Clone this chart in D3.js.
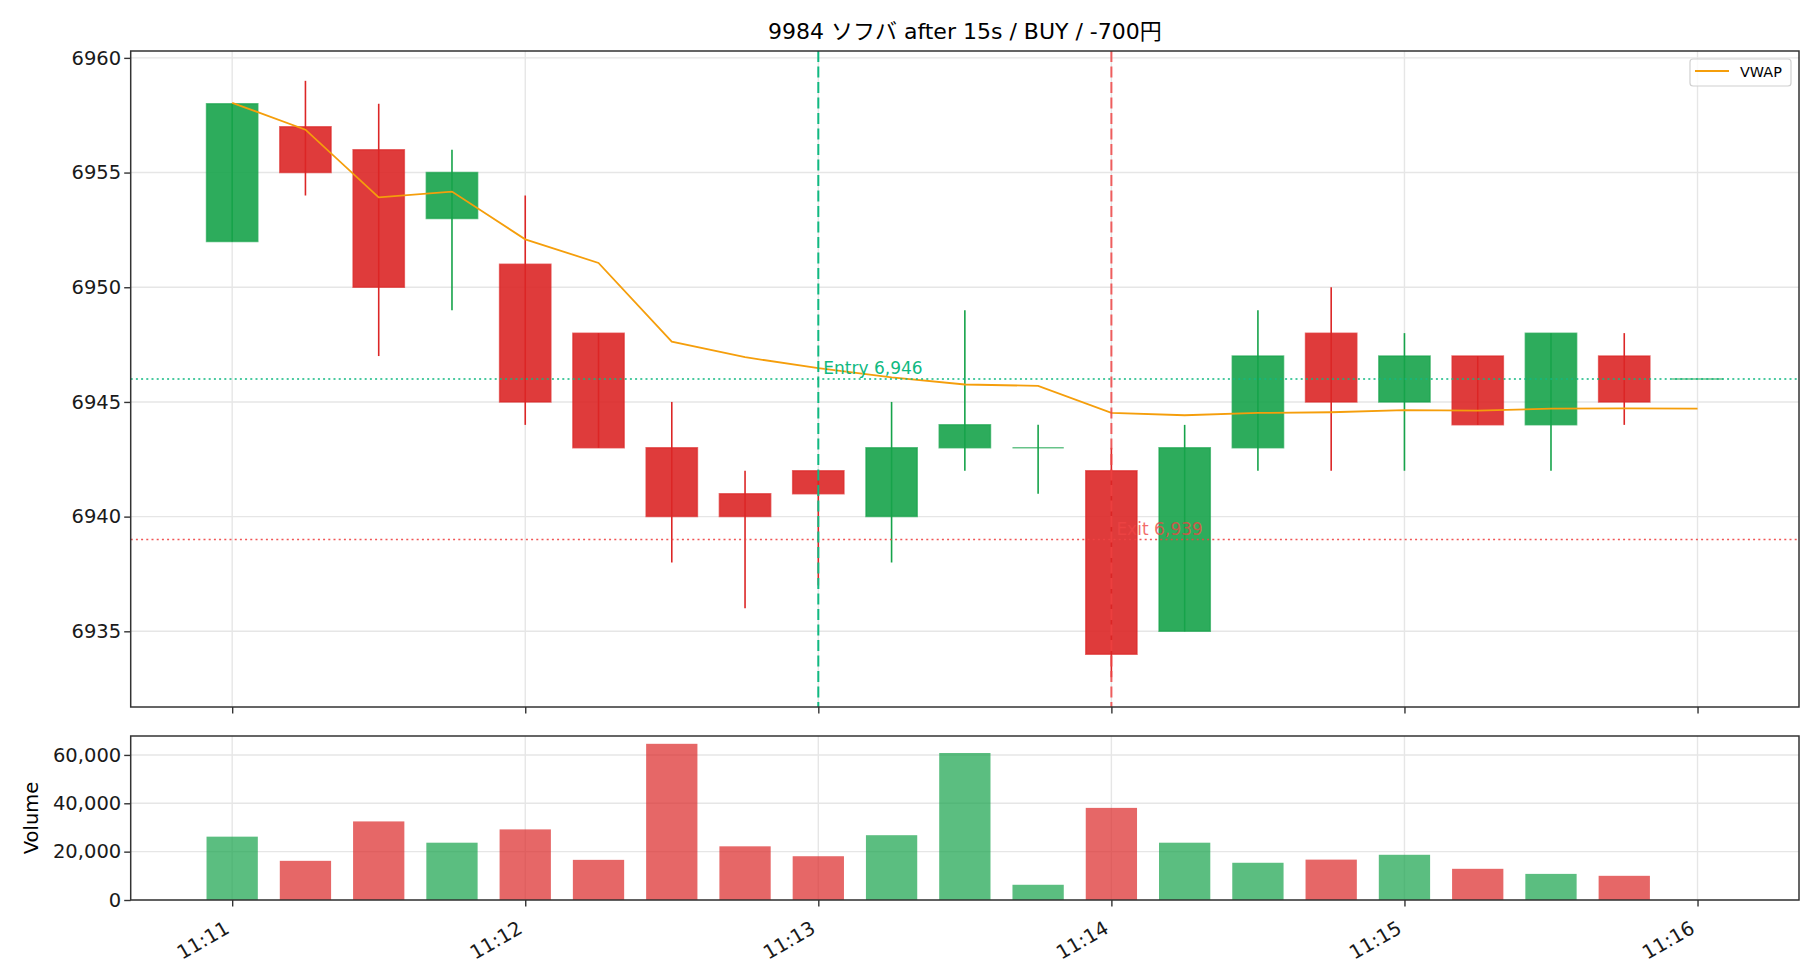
<!DOCTYPE html>
<html>
<head>
<meta charset="utf-8">
<script src="https://d3js.org/d3.v7.min.js"></script>
<style>
  body { margin: 0; background: #ffffff; }
  text { font-family: "DejaVu Sans", "Noto Sans CJK JP", sans-serif; }
</style>
</head>
<body>
<div id="chart"></div>
<script>
var w = 1820
var h = 980

// 15 second candles
var times  = ["11:11:00", "11:11:15", "11:11:30", "11:11:45", "11:12:00", "11:12:15", "11:12:30",
              "11:12:45", "11:13:00", "11:13:15", "11:13:30", "11:13:45", "11:14:00", "11:14:15",
              "11:14:30", "11:14:45", "11:15:00", "11:15:15", "11:15:30", "11:15:45", "11:16:00"];
var open   = [6952, 6957, 6956, 6953, 6951, 6948, 6943, 6941, 6942, 6940, 6943, 6943, 6942, 6935, 6943, 6948, 6945, 6947, 6944, 6947, 6946];
var high   = [6958, 6959, 6958, 6956, 6954, 6948, 6945, 6942, 6942, 6945, 6949, 6944, 6943, 6944, 6949, 6950, 6948, 6947, 6948, 6948, 6946];
var low    = [6952, 6954, 6947, 6949, 6944, 6943, 6938, 6936, 6937, 6938, 6942, 6941, 6933, 6935, 6942, 6942, 6942, 6944, 6942, 6944, 6946];
var close  = [6958, 6955, 6950, 6955, 6945, 6943, 6940, 6940, 6941, 6943, 6944, 6943, 6934, 6943, 6947, 6945, 6947, 6944, 6948, 6945, 6946];
var volume = [26200, 16200, 32500, 23700, 29200, 16600, 64600, 22200, 18100, 26800, 60800, 6300, 38100, 23700, 15400, 16700, 18700, 12900, 10800, 10000, 0];
var vwap   = [6958.04, 6956.87, 6953.92, 6954.17, 6952.09, 6951.06, 6947.63, 6946.95, 6946.47, 6946.07, 6945.76,
              6945.70, 6944.52, 6944.42, 6944.52, 6944.55, 6944.64, 6944.62, 6944.71, 6944.72, 6944.71];

var entryTime = "11:13:00", entryPrice = 6946;
var exitTime  = "11:14:00", exitPrice  = 6939;
var yTicks    = [6935, 6940, 6945, 6950, 6955, 6960];
var volTicks  = [0, 20000, 40000, 60000];
var title     = "9984 ソフバ after 15s / BUY / -700円";

var green = "#16a34a", red = "#dc2626";
var entryColor = "#10b981", exitColor = "#ef4444";
var barSec = 10.5;

var parseT = d3.timeParse("%H:%M:%S");
var data = times.map(function(t, i) {
  return { t: parseT(t), o: open[i], h: high[i], l: low[i], c: close[i], v: volume[i], vw: vwap[i] };
});

var main = { l: 130.7, r: 1799, t: 51, b: 707 };
var vol  = { l: 130.7, r: 1799, t: 736, b: 900 };

// x extent like matplotlib: bar edges plus 5% margin
var t0 = +data[0].t - barSec * 500, t1 = +data[data.length - 1].t + barSec * 500;
var pad = (t1 - t0) * 0.05;
var x = d3.scaleTime().domain([new Date(t0 - pad), new Date(t1 + pad)]).range([main.l, main.r]);
var bw = x(new Date(+data[0].t + barSec * 1000)) - x(data[0].t);

var lo = d3.min(low), hi = d3.max(high), yp = (hi - lo) * 0.05;
var y = d3.scaleLinear().domain([lo - yp, hi + yp]).range([main.b, main.t]);
var yv = d3.scaleLinear().domain([0, d3.max(volume) * 1.05]).range([vol.b, vol.t]);

var svg = d3.select("#chart").append("svg")
    .attr("width", w)
    .attr("height", h);

var xTicks = x.ticks(d3.timeMinute.every(1));

function grid(box, ys, scale) {
  var g = svg.append("g").attr("stroke", "#e6e6e6").attr("stroke-width", 1.4);
  g.selectAll("line.v").data(xTicks).enter().append("line")
    .attr("x1", function(d) { return x(d); }).attr("x2", function(d) { return x(d); })
    .attr("y1", box.t).attr("y2", box.b);
  g.selectAll("line.h").data(ys).enter().append("line")
    .attr("x1", box.l).attr("x2", box.r)
    .attr("y1", function(d) { return scale(d); }).attr("y2", function(d) { return scale(d); });
}
grid(main, yTicks, y);
grid(vol, volTicks, yv);

// wicks
svg.append("g").selectAll("line").data(data).enter().append("line")
    .attr("x1", function(d) { return x(d.t); })
    .attr("x2", function(d) { return x(d.t); })
    .attr("y1", function(d) { return y(d.h); })
    .attr("y2", function(d) { return y(d.l); })
    .attr("stroke", function(d) { return d.c >= d.o ? green : red; })
    .attr("stroke-width", 1.6);

// bodies (path so flat candles still show)
svg.append("g").selectAll("path").data(data).enter().append("path")
    .attr("d", function(d) {
      var x0 = x(d.t) - bw / 2, x1 = x(d.t) + bw / 2;
      var y0 = y(Math.max(d.o, d.c)), y1 = y(Math.min(d.o, d.c));
      return "M" + x0 + "," + y0 + "H" + x1 + "V" + y1 + "H" + x0 + "Z";
    })
    .attr("fill", function(d) { return d.c >= d.o ? green : red; })
    .attr("fill-opacity", 0.9)
    .attr("stroke", function(d) { return d.c >= d.o ? green : red; })
    .attr("stroke-opacity", 0.65)
    .attr("stroke-width", 1.5);

// vwap
svg.append("path")
    .datum(data)
    .attr("fill", "none")
    .attr("stroke", "#f59e0b")
    .attr("stroke-width", 1.8)
    .attr("d", d3.line().x(function(d) { return x(d.t); }).y(function(d) { return y(d.vw); }));

// entry / exit levels
svg.append("line")
    .attr("x1", main.l).attr("x2", main.r)
    .attr("y1", y(entryPrice)).attr("y2", y(entryPrice))
    .attr("stroke", entryColor).attr("stroke-width", 1.6).attr("stroke-dasharray", "2,3.2");
svg.append("line")
    .attr("x1", main.l).attr("x2", main.r)
    .attr("y1", y(exitPrice)).attr("y2", y(exitPrice))
    .attr("stroke", exitColor).attr("stroke-opacity", 0.9)
    .attr("stroke-width", 1.6).attr("stroke-dasharray", "2,3.2");
svg.append("line")
    .attr("x1", x(parseT(entryTime))).attr("x2", x(parseT(entryTime)))
    .attr("y1", main.t).attr("y2", main.b)
    .attr("stroke", entryColor).attr("stroke-width", 2).attr("stroke-dasharray", "11,4.5");
svg.append("line")
    .attr("x1", x(parseT(exitTime))).attr("x2", x(parseT(exitTime)))
    .attr("y1", main.t).attr("y2", main.b)
    .attr("stroke", exitColor).attr("stroke-opacity", 0.85)
    .attr("stroke-width", 2).attr("stroke-dasharray", "11,4.5");

svg.append("text")
    .attr("x", x(parseT(entryTime)) + 5)
    .attr("y", y(entryPrice) - 5)
    .style("font-size", "17px")
    .style("fill", entryColor)
    .text("Entry " + d3.format(",")(entryPrice));
svg.append("text")
    .attr("x", x(parseT(exitTime)) + 5)
    .attr("y", y(exitPrice) - 5)
    .style("font-size", "17px")
    .style("fill", exitColor)
    .style("fill-opacity", 0.8)
    .text("Exit " + d3.format(",")(exitPrice));

// volume bars
svg.append("g").selectAll("rect").data(data.filter(function(d) { return d.v > 0; })).enter().append("rect")
    .attr("x", function(d) { return x(d.t) - bw / 2; })
    .attr("width", bw)
    .attr("y", function(d) { return yv(d.v); })
    .attr("height", function(d) { return yv(0) - yv(d.v); })
    .attr("fill", function(d) { return d.c >= d.o ? green : red; })
    .attr("fill-opacity", 0.7);

// frames
[main, vol].forEach(function(b) {
  svg.append("rect")
    .attr("x", b.l).attr("y", b.t)
    .attr("width", b.r - b.l).attr("height", b.b - b.t)
    .attr("fill", "none").attr("stroke", "#333").attr("stroke-width", 1.5);
});

// axes
var tl = 6.5;
svg.append("g").attr("transform", "translate(0," + main.b + ")")
    .call(d3.axisBottom(x).tickValues(xTicks).tickSize(tl).tickFormat(""))
    .call(function(g) { g.select(".domain").remove(); });
svg.append("g").attr("transform", "translate(0," + vol.b + ")")
    .call(d3.axisBottom(x).tickValues(xTicks).tickSize(tl).tickFormat(d3.timeFormat("%H:%M")))
    .call(function(g) {
      g.select(".domain").remove();
      g.selectAll("text")
        .attr("y", 0).attr("dy", 0)
        .attr("transform", "translate(-2,32) rotate(-30)")
        .style("text-anchor", "end");
    });
svg.append("g").attr("transform", "translate(" + main.l + ",0)")
    .call(d3.axisLeft(y).tickValues(yTicks).tickSize(tl).tickFormat(d3.format("d")))
    .call(function(g) { g.select(".domain").remove(); });
svg.append("g").attr("transform", "translate(" + vol.l + ",0)")
    .call(d3.axisLeft(yv).tickValues(volTicks).tickSize(tl).tickFormat(d3.format(",")))
    .call(function(g) { g.select(".domain").remove(); });

svg.selectAll(".tick line").attr("stroke", "#333").attr("stroke-width", 1.4);
svg.selectAll(".tick text").style("font-size", "19.5px").style("fill", "#1a1a1a")
    .style("font-family", "'DejaVu Sans', sans-serif");

svg.append("text")
    .attr("transform", "translate(31," + (vol.t + vol.b) / 2 + ") rotate(-90)")
    .attr("text-anchor", "middle")
    .attr("dy", "0.35em")
    .style("font-size", "19.5px")
    .text("Volume");

svg.append("text")
    .attr("x", (main.l + main.r) / 2)
    .attr("y", 39)
    .attr("text-anchor", "middle")
    .style("font-size", "22px")
    .text(title);

// legend
var lg = svg.append("g");
lg.append("rect")
    .attr("x", 1690).attr("y", 59).attr("width", 101).attr("height", 27).attr("rx", 3)
    .attr("fill", "#ffffff").attr("fill-opacity", 0.8)
    .attr("stroke", "#d0d0d0").attr("stroke-width", 1.2);
lg.append("line")
    .attr("x1", 1695).attr("x2", 1729).attr("y1", 71).attr("y2", 71)
    .attr("stroke", "#f59e0b").attr("stroke-width", 1.8);
lg.append("text")
    .attr("x", 1740).attr("y", 76.5)
    .style("font-size", "14.4px")
    .text("VWAP");
</script>
</body>
</html>
